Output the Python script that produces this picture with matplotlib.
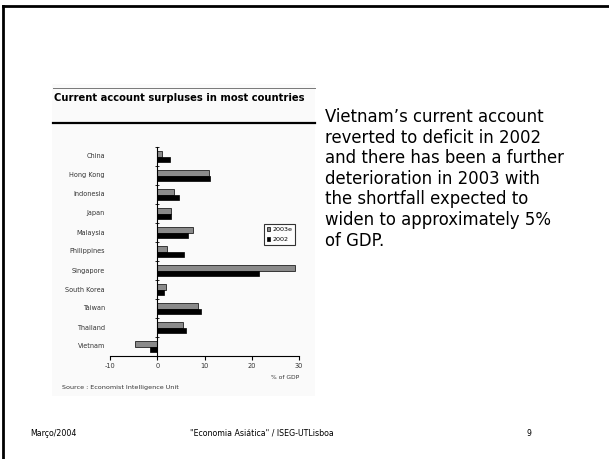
import numpy as np
import matplotlib.pyplot as plt
import matplotlib.transforms as mtransforms
from matplotlib.patches import Rectangle
from matplotlib.lines import Line2D

# --- Data (% of GDP) ---
countries = ['China', 'Hong Kong', 'Indonesia', 'Japan', 'Malaysia', 'Philippines',
             'Singapore', 'South Korea', 'Taiwan', 'Thailand', 'Vietnam']
surplus_2003e = [0.9, 10.9, 3.6, 3.0, 7.6, 2.0, 29.1, 1.8, 8.7, 5.5, -4.8]
surplus_2002 = [2.8, 11.1, 4.5, 3.0, 6.6, 5.6, 21.6, 1.5, 9.3, 6.1, -1.6]
x_ticks = [-10, 0, 10, 20, 30]

body_lines = [
    "Vietnam\u2019s current account",
    "reverted to deficit in 2002",
    "and there has been a further",
    "deterioration in 2003 with",
    "the shortfall expected to",
    "widen to approximately 5%",
    "of GDP.",
]

W, H = 609, 459
fig = plt.figure(figsize=(W / 100, H / 100), dpi=100)
fig.patch.set_facecolor('white')


def fx(px):
    return px / W


def fy(py):
    return 1 - py / H


# slide frame (top and left edges)
fig.add_artist(Line2D([fx(3), 1], [fy(6), fy(6)], color='black', lw=2))
fig.add_artist(Line2D([fx(3), fx(3)], [fy(6), 0], color='black', lw=2))

# pasted picture background
fig.add_artist(Rectangle((fx(52), fy(396)), fx(315) - fx(52), fy(84) - fy(396),
                         facecolor='#fafafa', edgecolor='none', zorder=0))
fig.add_artist(Line2D([fx(53), fx(315)], [fy(88), fy(88)], color='#777777', lw=0.7))
fig.add_artist(Line2D([fx(53), fx(315)], [fy(123), fy(123)], color='black', lw=1.6))
fig.text(fx(54), fy(98), 'Current account surpluses in most countries',
         fontsize=7.2, fontweight='bold', va='center', ha='left')

# --- Bar chart ---
ax = fig.add_axes([fx(110), fy(356), fx(299) - fx(110), fy(147) - fy(356)])
ax.patch.set_alpha(0)
y = np.arange(len(countries))
h = 0.27
ax.barh(y - h / 2, surplus_2003e, height=h, color='#8a8a8a', edgecolor='black',
        linewidth=0.5, label='2003e')
ax.barh(y + h / 2, surplus_2002, height=h, color='black', edgecolor='black',
        linewidth=0.5, label='2002')
ax.set_xlim(-10, 30)
ax.set_ylim(len(countries) - 0.5, -0.5)

for s in ['top', 'right']:
    ax.spines[s].set_visible(False)
ax.spines['left'].set_position(('data', 0))
ax.spines['left'].set_linewidth(0.8)
ax.spines['bottom'].set_linewidth(0.8)

ax.set_yticks(np.arange(len(countries) + 1) - 0.5)
ax.set_yticklabels([])
ax.tick_params(axis='y', direction='inout', length=3, width=0.6)
ax.set_xticks(x_ticks)
ax.set_xticklabels([str(v) for v in x_ticks], fontsize=4.8, color='#333333')
ax.tick_params(axis='x', direction='out', length=3, width=0.8, pad=2)

trans = mtransforms.blended_transform_factory(ax.transAxes, ax.transData)
for i, name in enumerate(countries):
    ax.text(-0.027, i, name, transform=trans, ha='right', va='center',
            fontsize=4.7, color='#333333')

ax.text(1.0, -0.105, '% of GDP', transform=ax.transAxes, ha='right', va='center',
        fontsize=4.3, color='#333333')

leg = ax.legend(loc='upper left', bbox_to_anchor=(0.80, 0.645), fontsize=4.6,
                frameon=True, fancybox=False, handlelength=0.5, handleheight=0.6,
                handletextpad=0.3, borderpad=0.4, labelspacing=0.75)
leg.get_frame().set_edgecolor('black')
leg.get_frame().set_linewidth(0.8)

fig.text(fx(62), fy(387), 'Source : Economist Intelligence Unit', fontsize=4.6,
         color='#333333', va='center', ha='left')

# --- Slide body text ---
for i, line in enumerate(body_lines):
    fig.text(fx(325), fy(117 + i * 20.6), line, fontsize=11.9, va='center',
             ha='left', color='black')

# --- Footer ---
fig.text(fx(30), fy(433), 'Mar\u00e7o/2004', fontsize=5.7, va='center', ha='left')
fig.text(fx(262), fy(433), '"Economia Asi\u00e1tica" / ISEG-UTLisboa', fontsize=5.7,
         va='center', ha='center')
fig.text(fx(529), fy(433), '9', fontsize=5.7, va='center', ha='center')

fig.savefig('out.png', dpi=100)
